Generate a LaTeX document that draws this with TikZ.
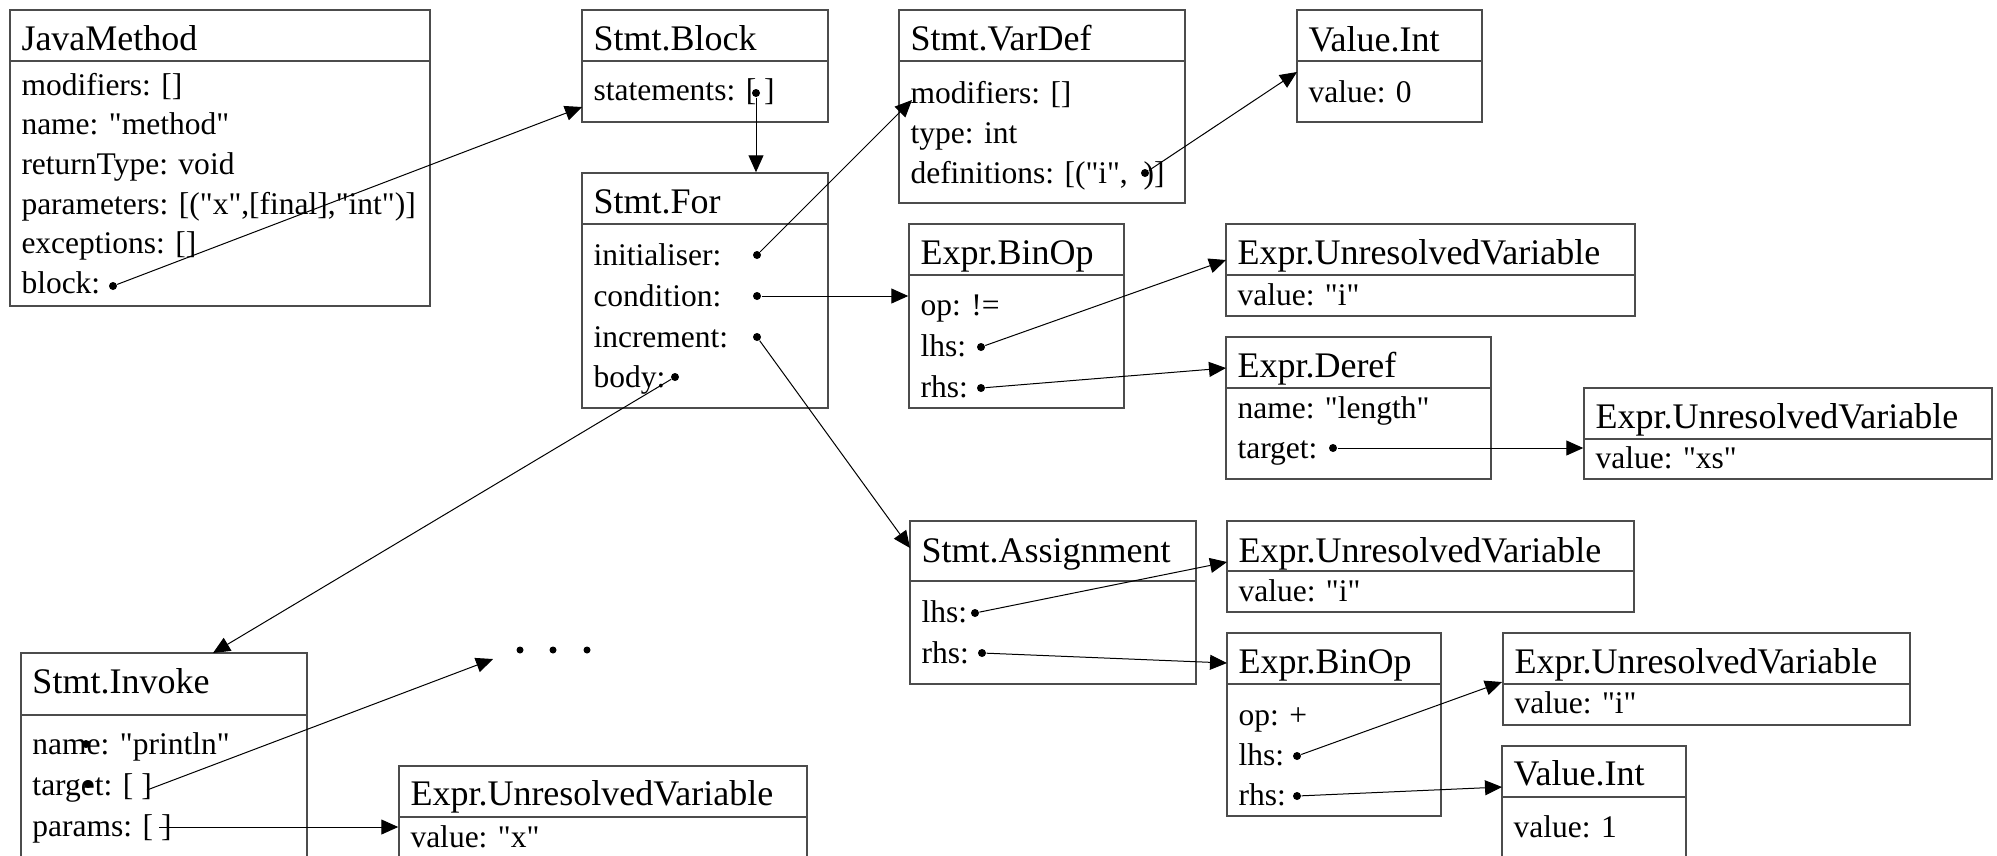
\documentclass[tikz,border=0pt]{standalone}
\usepackage{fontspec}
\setmainfont{Liberation Serif}[Ligatures=TeXOff]
\usetikzlibrary{arrows.meta, fit}

\begin{document}
\begin{tikzpicture}[x=0.4pt, y=-0.4pt]
      \tikzstyle{arrow} = [line width=0.4pt, -{Triangle[length=6.8pt, width=6pt]}]
      \tikzstyle{classbox} = [rectangle, draw=black!70, line width=0.6pt, inner sep=0pt]
      \tikzstyle{hdtext} = [anchor=base west, inner sep=0pt, font=\fontsize{14.4}{17}\selectfont]
      \tikzstyle{fieldtext} = [anchor=base west, inner sep=0pt, font=\fontsize{12.6}{15}\selectfont]
      \tikzstyle{ptr} = [circle, fill=black, inner sep=0pt, minimum size=3.2pt]
      \path[use as bounding box, clip] (0,0) rectangle (1997,855);
      % JavaMethod
      \node (jm-head) [classbox, fit={(10,10) (430,61)}] {};
      \node (jm) [classbox, fit={(10,61) (430,306)}] {};
      \node (jm-title) [hdtext] at (21,50) {JavaMethod};
      \node (jm-mod) [fieldtext] at (21,95) {modifiers: []};
      \node (jm-name) [fieldtext] at (21,134) {name: "method"};
      \node (jm-ret) [fieldtext] at (21,174) {returnType: void};
      \node (jm-par) [fieldtext] at (21,214) {parameters: [("x",[final],"int")]};
      \node (jm-exc) [fieldtext] at (21,253) {exceptions: []};
      \node (jm-blk) [fieldtext] at (21,293) {block:};
      \node (jm-blk-dot) [ptr] at (113,286) {};
      % Stmt.Block
      \node (blk-head) [classbox, fit={(582,10) (828,61)}] {};
      \node (blk) [classbox, fit={(582,61) (828,122)}] {};
      \node (blk-title) [hdtext] at (593,50) {Stmt.Block};
      \node (blk-stmts) [fieldtext] at (593,100) {statements: [ ]};
      \node (blk-dot) [ptr] at (756,93) {};
      % Stmt.For
      \node (for-head) [classbox, fit={(582,173) (828,224)}] {};
      \node (for) [classbox, fit={(582,224) (828,408)}] {};
      \node (for-title) [hdtext] at (593,213) {Stmt.For};
      \node (for-init) [fieldtext] at (593,265) {initialiser:};
      \node (for-cond) [fieldtext] at (593,306) {condition:};
      \node (for-incr) [fieldtext] at (593,347) {increment:};
      \node (for-body) [fieldtext] at (593,387) {body:};
      \node (init-dot) [ptr] at (757,255) {};
      \node (cond-dot) [ptr] at (757,296) {};
      \node (incr-dot) [ptr] at (757,337) {};
      \node (body-dot) [ptr] at (675,377) {};
      % Stmt.VarDef
      \node (vd-head) [classbox, fit={(899,10) (1185,61)}] {};
      \node (vd) [classbox, fit={(899,61) (1185,203)}] {};
      \node (vd-title) [hdtext] at (910,50) {Stmt.VarDef};
      \node (vd-mod) [fieldtext] at (910,103) {modifiers: []};
      \node (vd-type) [fieldtext] at (910,143) {type: int};
      \node (vd-defs) [fieldtext] at (910,183) {definitions: [("i",~~)]};
      \node (vd-dot) [ptr] at (1145,173) {};
      % Value.Int
      \node (vi1-head) [classbox, fit={(1297,10) (1482,61)}] {};
      \node (vi1) [classbox, fit={(1297,61) (1482,122)}] {};
      \node (vi1-title) [hdtext] at (1308,51) {Value.Int};
      \node (vi1-val) [fieldtext] at (1308,102) {value: 0};
      % Expr.BinOp (condition)
      \node (bo1-head) [classbox, fit={(909,224) (1124,275)}] {};
      \node (bo1) [classbox, fit={(909,275) (1124,408)}] {};
      \node (bo1-title) [hdtext] at (920,264) {Expr.BinOp};
      \node (bo1-op) [fieldtext] at (920,315) {op: !=};
      \node (bo1-lhs) [fieldtext] at (920,356) {lhs:};
      \node (bo1-rhs) [fieldtext] at (920,397) {rhs:};
      \node (bo1-lhs-dot) [ptr] at (981,347) {};
      \node (bo1-rhs-dot) [ptr] at (981,388) {};
      % Expr.UnresolvedVariable "i"
      \node (uv1-head) [classbox, fit={(1226,224) (1635,275)}] {};
      \node (uv1) [classbox, fit={(1226,275) (1635,316)}] {};
      \node (uv1-title) [hdtext] at (1237,264) {Expr.UnresolvedVariable};
      \node (uv1-val) [fieldtext] at (1237,305) {value: "i"};
      % Expr.Deref
      \node (der-head) [classbox, fit={(1226,337) (1491,388)}] {};
      \node (der) [classbox, fit={(1226,388) (1491,479)}] {};
      \node (der-title) [hdtext] at (1237,377) {Expr.Deref};
      \node (der-name) [fieldtext] at (1237,418) {name: "length"};
      \node (der-tgt) [fieldtext] at (1237,458) {target:};
      \node (der-dot) [ptr] at (1333,448) {};
      % Expr.UnresolvedVariable "xs"
      \node (uv2-head) [classbox, fit={(1584,388) (1992,439)}] {};
      \node (uv2) [classbox, fit={(1584,439) (1992,479)}] {};
      \node (uv2-title) [hdtext] at (1595,428) {Expr.UnresolvedVariable};
      \node (uv2-val) [fieldtext] at (1595,468) {value: "xs"};
      % Stmt.Assignment
      \node (as-head) [classbox, fit={(910,521) (1196,581)}] {};
      \node (as) [classbox, fit={(910,581) (1196,684)}] {};
      \node (as-title) [hdtext] at (921,562) {Stmt.Assignment};
      \node (as-lhs) [fieldtext] at (921,622) {lhs:};
      \node (as-rhs) [fieldtext] at (921,663) {rhs:};
      \node (as-lhs-dot) [ptr] at (975,613) {};
      \node (as-rhs-dot) [ptr] at (982,653) {};
      % Expr.UnresolvedVariable "i"
      \node (uv4-head) [classbox, fit={(1227,521) (1634,571)}] {};
      \node (uv4) [classbox, fit={(1227,571) (1634,612)}] {};
      \node (uv4-title) [hdtext] at (1238,562) {Expr.UnresolvedVariable};
      \node (uv4-val) [fieldtext] at (1238,601) {value: "i"};
      % Expr.BinOp (increment)
      \node (bo2-head) [classbox, fit={(1227,633) (1441,684)}] {};
      \node (bo2) [classbox, fit={(1227,684) (1441,816)}] {};
      \node (bo2-title) [hdtext] at (1238,673) {Expr.BinOp};
      \node (bo2-op) [fieldtext] at (1238,725) {op: +};
      \node (bo2-lhs) [fieldtext] at (1238,765) {lhs:};
      \node (bo2-rhs) [fieldtext] at (1238,805) {rhs:};
      \node (bo2-lhs-dot) [ptr] at (1297,756) {};
      \node (bo2-rhs-dot) [ptr] at (1297,796) {};
      % Expr.UnresolvedVariable "i"
      \node (uv5-head) [classbox, fit={(1503,633) (1910,684)}] {};
      \node (uv5) [classbox, fit={(1503,684) (1910,725)}] {};
      \node (uv5-title) [hdtext] at (1514,673) {Expr.UnresolvedVariable};
      \node (uv5-val) [fieldtext] at (1514,713) {value: "i"};
      % Value.Int 1
      \node (vi2-head) [classbox, fit={(1502,746) (1686,797)}] {};
      \node (vi2) [classbox, fit={(1502,797) (1686,880)}] {};
      \node (vi2-title) [hdtext] at (1513,785) {Value.Int};
      \node (vi2-val) [fieldtext] at (1513,837) {value: 1};
      % Stmt.Invoke
      \node (inv-head) [classbox, fit={(21,653) (307,715)}] {};
      \node (inv) [classbox, fit={(21,715) (307,880)}] {};
      \node (inv-title) [hdtext] at (32,693) {Stmt.Invoke};
      \node (inv-name) [fieldtext] at (32,754) {name: "println"};
      \node (inv-tgt) [fieldtext] at (32,795) {target: [ ]};
      \node (inv-par) [fieldtext] at (32,836) {params: [ ]};
      \node (inv-name-dot) [ptr] at (86,744) {};
      \node (inv-tgt-dot) [ptr] at (88,784) {};
      \coordinate (inv-tgt-out) at (147,790);
      \coordinate (inv-par-out) at (159,827);
      % Expr.UnresolvedVariable "x"
      \node (uv3-head) [classbox, fit={(399,766) (807,817)}] {};
      \node (uv3) [classbox, fit={(399,817) (807,880)}] {};
      \node (uv3-title) [hdtext] at (410,805) {Expr.UnresolvedVariable};
      \node (uv3-val) [fieldtext] at (410,847) {value: "x"};
      % elided rest
      \node (more-a) [ptr, minimum size=2.8pt] at (520,650) {};
      \node (more-b) [ptr, minimum size=2.8pt] at (553,650) {};
      \node (more-c) [ptr, minimum size=2.8pt] at (587,650) {};
      % arrow ends
      \coordinate (blk-in) at (582,107);
      \coordinate (vd-in) at (912,100);
      \coordinate (as-in) at (910,548);
      \coordinate (inv-in) at (213,653);
      \coordinate (uv1-in) at (1226,260);
      \coordinate (der-in) at (1226,368);
      \coordinate (vi1-in) at (1297,72);
      \coordinate (uv4-in) at (1227,562);
      \coordinate (bo2-in) at (1227,663);
      \coordinate (uv5-in) at (1502,682);
      \coordinate (vi2-in) at (1502,787);
      \coordinate (more-in) at (493,659);
      \draw [arrow] (jm-blk-dot) -- (blk-in);
      \draw [arrow] (blk-dot) -- (blk-dot |- for-head.north);
      \draw [arrow] (init-dot) -- (vd-in);
      \draw [arrow] (cond-dot) -- (cond-dot -| bo1.west);
      \draw [arrow] (incr-dot) -- (as-in);
      \draw [arrow] (body-dot) -- (inv-in);
      \draw [arrow] (vd-dot) -- (vi1-in);
      \draw [arrow] (bo1-lhs-dot) -- (uv1-in);
      \draw [arrow] (bo1-rhs-dot) -- (der-in);
      \draw [arrow] (der-dot) -- (der-dot -| uv2.west);
      \draw [arrow] (as-lhs-dot) -- (uv4-in);
      \draw [arrow] (as-rhs-dot) -- (bo2-in);
      \draw [arrow] (bo2-lhs-dot) -- (uv5-in);
      \draw [arrow] (bo2-rhs-dot) -- (vi2-in);
      \draw [arrow] (inv-tgt-out) -- (more-in);
      \draw [arrow] (inv-par-out) -- (inv-par-out -| uv3.west);
\end{tikzpicture}
\end{document}
